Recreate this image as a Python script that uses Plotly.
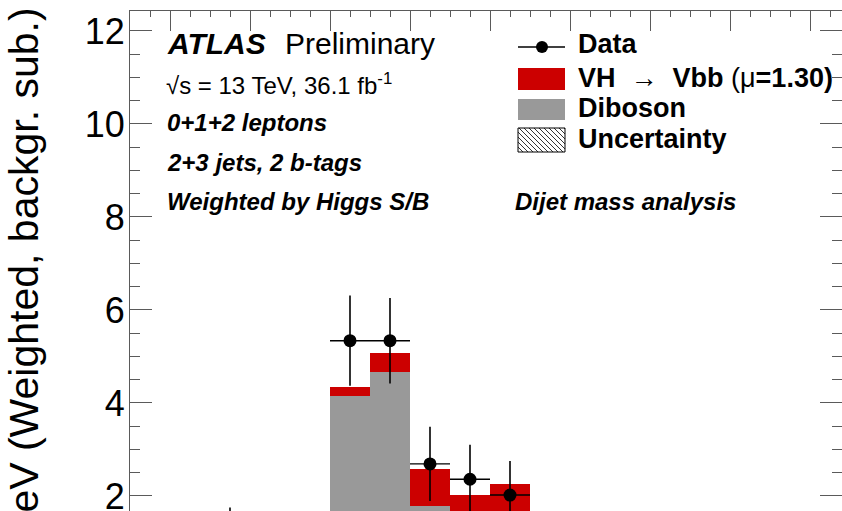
import plotly.graph_objects as go

# Background-subtracted dijet mass, weighted by Higgs S/B (10 GeV bins)
bin_centers = [85, 95, 105, 115, 125]
diboson = [4.14, 4.67, 1.78, 1.30, 1.05]
vh_signal = [0.20, 0.40, 0.80, 0.72, 1.21]

data_x = [55, 85, 95, 105, 115, 125]
data_y = [0.95, 5.34, 5.34, 2.69, 2.36, 2.02]
data_err = [0.80, 0.97, 0.92, 0.80, 0.74, 0.73]

BIN_WIDTH = 10
X_RANGE = [30, 208]
Y_RANGE = [1.677, 12.43]

FONT = "Liberation Sans"
RED = "#cc0000"
GREY = "#999999"
FRAME = "#5a5a5a"

W, H = 842, 511
ML, MT = 130, 11
PW, PH = W - ML, H - MT


def px(x):
    return (x - ML) / PW


def py(y):
    return 1 - (y - MT) / PH


fig = go.Figure()
fig.add_trace(go.Bar(x=bin_centers, y=diboson, width=BIN_WIDTH,
                     marker=dict(color=GREY, line=dict(width=0)), name="Diboson"))
fig.add_trace(go.Bar(x=bin_centers, y=vh_signal, width=BIN_WIDTH,
                     marker=dict(color=RED, line=dict(width=0)), name="VH"))
fig.add_trace(go.Scatter(
    x=data_x, y=data_y, mode="markers", name="Data",
    marker=dict(color="black", size=13),
    error_y=dict(type="data", array=data_err, color="black", thickness=1.6, width=0),
    error_x=dict(type="constant", value=BIN_WIDTH / 2, color="black", thickness=1.4, width=0),
))

shapes = []
annotations = []


def text(x, y, s, size, xanchor="left"):
    annotations.append(dict(
        x=px(x), y=py(y), xref="paper", yref="paper", text=s, showarrow=False,
        xanchor=xanchor, yanchor="middle", font=dict(family=FONT, size=size, color="black"),
    ))


# Labels
text(165, 43, "<b><i>ATLAS</i></b>", 30)
text(283, 43, "Preliminary", 30)
text(164, 84, "√s = 13 TeV, 36.1 fb<sup>-1</sup>", 24)
text(165, 123, "<b><i>0+1+2 leptons</i></b>", 24)
text(165, 162, "<b><i>2+3 jets, 2 b-tags</i></b>", 24)
text(165, 201, "<b><i>Weighted by Higgs S/B</i></b>", 24)
text(513, 201, "<b><i>Dijet mass analysis</i></b>", 24)

# Legend
LX0, LX1 = 518, 565
shapes.append(dict(type="line", xref="paper", yref="paper", x0=px(LX0), x1=px(LX1),
                   y0=py(47), y1=py(47), line=dict(color="black", width=1.5)))
shapes.append(dict(type="circle", xref="paper", yref="paper", x0=px(536), x1=px(548),
                   y0=py(41), y1=py(53), fillcolor="black", line=dict(width=0)))
shapes.append(dict(type="rect", xref="paper", yref="paper", x0=px(LX0), x1=px(LX1),
                   y0=py(68), y1=py(90), fillcolor=RED, line=dict(width=0)))
shapes.append(dict(type="rect", xref="paper", yref="paper", x0=px(LX0), x1=px(LX1),
                   y0=py(99), y1=py(120), fillcolor=GREY, line=dict(width=0)))
HY0, HY1 = 128, 152
shapes.append(dict(type="rect", xref="paper", yref="paper", x0=px(LX0), x1=px(LX1),
                   y0=py(HY0), y1=py(HY1), line=dict(color="black", width=1)))
# diagonal hatching running from top-left to bottom-right
hh = HY1 - HY0
for c in range(-hh, LX1 - LX0, 5):
    xa, ya = LX0 + c, HY0
    xb, yb = LX0 + c + hh, HY1
    if xa < LX0:
        ya += LX0 - xa
        xa = LX0
    if xb > LX1:
        yb -= xb - LX1
        xb = LX1
    shapes.append(dict(type="line", xref="paper", yref="paper", x0=px(xa), x1=px(xb),
                       y0=py(ya), y1=py(yb), line=dict(color="black", width=0.8)))

text(576, 44, "<b>Data</b>", 27)
text(576, 78, "<b>VH</b>  →  <b>Vbb</b> (μ<b>=1.30)</b>", 27)
text(576, 108, "<b>Diboson</b>", 27)
text(576, 139, "<b>Uncertainty</b>", 27)

# Y axis title, aligned to the top end of the axis
annotations.append(dict(
    x=px(24), y=py(5), xref="paper", yref="paper",
    text="Events / 10 GeV (Weighted, backgr. sub.)", textangle=-90, showarrow=False,
    xanchor="center", yanchor="top", font=dict(family=FONT, size=41, color="black"),
))

fig.update_layout(
    width=W, height=H,
    margin=dict(l=ML, r=0, t=MT, b=0, pad=0, autoexpand=False),
    plot_bgcolor="white", paper_bgcolor="white",
    barmode="stack", bargap=0, showlegend=False,
    shapes=shapes, annotations=annotations,
    xaxis=dict(
        range=X_RANGE, side="top", showline=True, linecolor=FRAME, linewidth=1,
        ticks="inside", ticklen=20, tickcolor=FRAME, tickwidth=1, dtick=20, tick0=0,
        showticklabels=False, showgrid=False, zeroline=False, automargin=False,
        minor=dict(ticks="inside", ticklen=6, dtick=5, tick0=0, tickcolor=FRAME,
                   tickwidth=1, showgrid=False),
    ),
    yaxis=dict(
        range=Y_RANGE, showline=True, linecolor=FRAME, linewidth=1, mirror="allticks",
        ticks="inside", ticklen=22, tickcolor=FRAME, tickwidth=1, dtick=2, tick0=0,
        tickfont=dict(family=FONT, size=36, color="black"),
        ticklabeloverflow="allow", ticklabelstandoff=-3, automargin=False,
        showgrid=False, zeroline=False,
        minor=dict(ticks="inside", ticklen=10, dtick=0.5, tick0=0, tickcolor=FRAME,
                   tickwidth=1, showgrid=False),
    ),
)

fig.write_html("out.html")
